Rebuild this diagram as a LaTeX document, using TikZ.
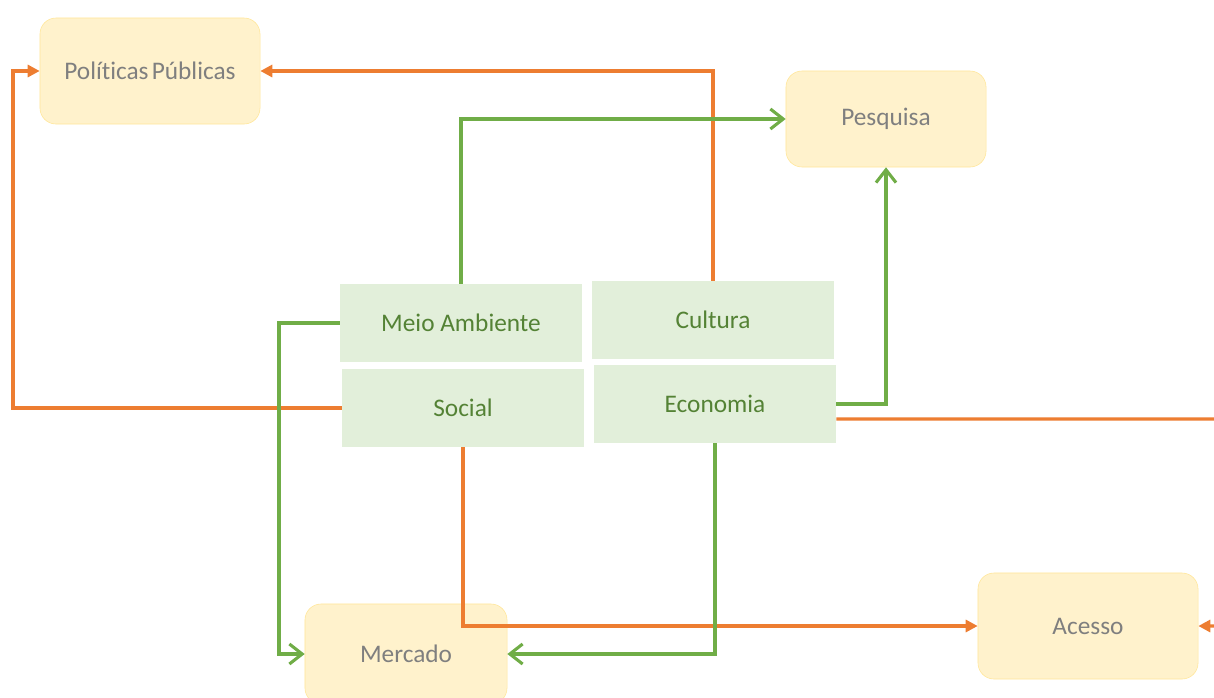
\documentclass[tikz,border=0pt]{standalone}
\usepackage{fontspec}
\setmainfont[Ligatures=NoCommon]{Carlito}
\usetikzlibrary{arrows.meta}
\definecolor{laranja}{HTML}{ED7D31}
\definecolor{verde}{HTML}{70AD47}
\definecolor{amarelo}{HTML}{FFF2CC}
\definecolor{amareloborda}{HTML}{FFE699}
\definecolor{verdeclaro}{HTML}{E2EFDA}
\definecolor{verdetexto}{HTML}{548235}
\definecolor{cinza}{HTML}{7F7F7F}
\begin{document}
\begin{tikzpicture}[x=0.025cm,y=-0.025cm,
    alvo/.style={draw=amareloborda,fill=amarelo,rounded corners=0.4cm,text=cinza,
      font=\fontsize{18}{22}\selectfont,inner sep=0pt},
    tema/.style={fill=verdeclaro,text=verdetexto,font=\fontsize{18}{22}\selectfont,
      inner sep=0pt,minimum width=6.05cm,minimum height=1.95cm},
    lar/.style={draw=laranja,line width=2.2pt,-{Triangle[length=0.3cm,width=0.3cm]}},
    ver/.style={draw=verde,line width=2.2pt,-{Straight Barb[length=0.32cm,width=0.5cm,line width=2.2pt]}}]
      \useasboundingbox (0,0) rectangle (1214,697);

      % Caixas
      \node[alvo,minimum width=5.5cm,minimum height=2.65cm] (pol) at (150,71) {Políticas\hspace{-0.1em} Públicas};
      \node[alvo,minimum width=5.0cm,minimum height=2.4cm] (pes) at (886,119) {Pesquisa};
      \node[alvo,minimum width=5.05cm,minimum height=2.5cm] (mer) at (406,654) {Mercado};
      \node[alvo,minimum width=5.5cm,minimum height=2.65cm] (ace) at (1088,626) {Acesso};
      \node[tema] (mei) at (461,323) {Meio Ambiente};
      \node[tema] (cul) at (713,320) {Cultura};
      \node[tema] (soc) at (463,408) {Social};
      \node[tema] (eco) at (715,404) {Economia};
      \coordinate (fora) at (1222,419);

      % Ligações laranja
      \draw[lar] (soc.west) -- (13,408) |- (pol.west);
      \draw[lar] (cul.north) |- (pol.east);
      \draw[lar] ([yshift=-0.375cm]eco.east) -- (fora) |- (ace.east);
      \draw[lar] (soc.south) |- (ace.west);

      % Ligações verdes
      \draw[ver] (mei.north) |- (pes.west);
      \draw[ver] (mei.west) -- (279,323) |- (mer.west);
      \draw[ver] (eco.east) -| (pes.south);
      \draw[ver] (eco.south) |- (mer.east);
\end{tikzpicture}
\end{document}
